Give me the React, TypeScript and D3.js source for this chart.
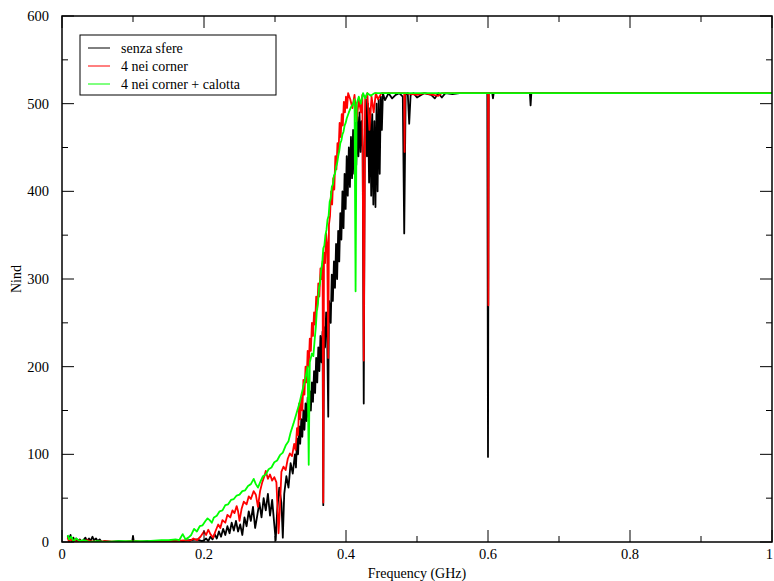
import * as d3 from 'd3';

type Pt = [number, number];

// Nind vs frequency (GHz)
const senzaSfere: Pt[] = [
  [0.008, 7], [0.010, 2], [0.012, 8], [0.014, 1], [0.016, 5], [0.018, 0], [0.020, 4], [0.022, 1],
  [0.025, 3], [0.028, 0], [0.030, 2], [0.033, 5], [0.035, 1], [0.038, 4], [0.040, 1], [0.043, 6],
  [0.045, 2], [0.048, 4], [0.050, 1], [0.053, 3], [0.056, 0], [0.060, 1], [0.070, 0], [0.080, 1],
  [0.090, 0], [0.099, 1], [0.100, 7], [0.101, 1], [0.110, 0], [0.120, 1], [0.130, 0], [0.140, 1],
  [0.150, 0], [0.160, 2], [0.170, 1], [0.180, 2], [0.190, 3], [0.197, 1],
  [0.200, 2], [0.203, 4], [0.206, 1], [0.209, 6], [0.212, 3], [0.215, 9], [0.218, 4], [0.221, 12],
  [0.224, 6], [0.227, 15], [0.230, 8], [0.233, 18], [0.236, 10], [0.239, 22], [0.242, 13], [0.245, 24],
  [0.248, 12], [0.251, 20], [0.254, 8], [0.257, 28], [0.260, 18], [0.263, 35], [0.266, 24], [0.269, 40],
  [0.272, 16], [0.275, 30], [0.278, 45], [0.281, 28], [0.284, 50], [0.287, 36], [0.290, 55], [0.293, 30],
  [0.296, 48], [0.299, 20], [0.301, 2], [0.303, 35], [0.306, 62], [0.309, 45], [0.311, 5], [0.313, 55],
  [0.316, 75], [0.319, 62], [0.322, 90], [0.325, 78], [0.328, 100], [0.3295, 85], [0.331, 118], [0.3325, 100],
  [0.334, 132], [0.3355, 112], [0.337, 140], [0.3385, 120], [0.340, 150], [0.3415, 128], [0.343, 158], [0.3445, 138],
  [0.346, 165], [0.3475, 142], [0.349, 172], [0.3505, 150], [0.352, 182], [0.3535, 160], [0.355, 195], [0.3565, 170],
  [0.358, 210], [0.3595, 182], [0.361, 222], [0.3625, 195], [0.364, 235], [0.3655, 205], [0.367, 240], [0.368, 42],
  [0.369, 245], [0.3705, 222], [0.372, 262], [0.3735, 235], [0.375, 143], [0.376, 275], [0.377, 270], [0.3785, 250],
  [0.380, 305], [0.3815, 275], [0.383, 320], [0.3845, 290], [0.386, 340], [0.3875, 300], [0.389, 355], [0.3905, 320],
  [0.392, 375], [0.3935, 345], [0.395, 400], [0.3965, 358], [0.398, 420], [0.3995, 380], [0.401, 440], [0.4025, 395],
  [0.404, 450], [0.4055, 405], [0.407, 462], [0.4085, 415], [0.410, 470], [0.4115, 420], [0.413, 478], [0.4145, 430],
  [0.416, 485], [0.4175, 440], [0.419, 490], [0.4205, 445], [0.422, 480], [0.4235, 450], [0.425, 158], [0.4265, 470],
  [0.428, 505], [0.4295, 440], [0.431, 500], [0.4325, 410], [0.434, 495], [0.4355, 395], [0.437, 488], [0.4385, 385],
  [0.440, 480], [0.4415, 382], [0.443, 500], [0.4445, 400], [0.446, 505], [0.4475, 420], [0.449, 508], [0.4505, 470],
  [0.452, 512], [0.455, 504], [0.460, 512], [0.465, 506], [0.470, 510],
  [0.475, 512], [0.480, 508], [0.482, 352], [0.484, 510], [0.487, 512], [0.489, 477], [0.491, 510], [0.495, 512],
  [0.500, 507], [0.510, 512], [0.520, 510], [0.525, 506], [0.530, 512], [0.535, 507], [0.540, 512], [0.550, 511],
  [0.560, 512], [0.599, 512], [0.600, 97], [0.601, 512], [0.606, 512], [0.607, 506], [0.608, 512],
  [0.659, 512], [0.660, 498], [0.661, 512], [1.000, 512],
];

const quattroCorner: Pt[] = [
  [0.008, 5], [0.010, 0], [0.012, 4], [0.015, 0], [0.018, 3], [0.020, 0], [0.025, 2], [0.030, 0],
  [0.035, 2], [0.040, 1], [0.050, 0], [0.060, 1], [0.080, 0], [0.100, 1], [0.120, 0], [0.140, 1],
  [0.160, 1], [0.175, 2], [0.180, 1], [0.185, 4], [0.190, 2], [0.195, 6], [0.200, 12], [0.203, 8],
  [0.206, 14], [0.209, 9], [0.213, 5], [0.216, 12], [0.220, 20], [0.223, 16], [0.226, 25], [0.230, 22],
  [0.233, 31], [0.237, 28], [0.240, 36], [0.243, 33], [0.246, 41], [0.248, 35], [0.250, 24], [0.253, 38],
  [0.256, 46], [0.260, 43], [0.263, 52], [0.266, 49], [0.270, 58], [0.273, 54], [0.276, 40], [0.279, 58],
  [0.282, 68], [0.285, 75], [0.287, 81], [0.290, 72], [0.293, 77], [0.296, 70], [0.299, 74], [0.302, 68],
  [0.304, 30], [0.305, 10], [0.307, 40], [0.309, 80], [0.312, 86], [0.315, 82], [0.318, 95], [0.321, 101],
  [0.324, 98], [0.327, 112], [0.329, 105], [0.331, 130], [0.3325, 122], [0.334, 158], [0.3355, 140], [0.337, 165],
  [0.3385, 150], [0.340, 185], [0.3415, 168], [0.343, 200], [0.3445, 182], [0.346, 218], [0.3475, 200], [0.349, 232],
  [0.3505, 218], [0.352, 250], [0.3535, 235], [0.355, 262], [0.3565, 248], [0.358, 280], [0.3595, 265], [0.361, 295],
  [0.3625, 280], [0.364, 312], [0.3655, 300], [0.367, 320], [0.368, 45], [0.369, 330], [0.3705, 318], [0.372, 352],
  [0.3735, 340], [0.375, 210], [0.376, 362], [0.3775, 372], [0.379, 400], [0.3805, 385], [0.382, 415], [0.3835, 402],
  [0.385, 440], [0.3865, 425], [0.388, 455], [0.3895, 445], [0.391, 478], [0.3925, 462], [0.394, 488], [0.3955, 475],
  [0.397, 502], [0.3985, 490], [0.400, 508], [0.4015, 495], [0.403, 512], [0.406, 505], [0.409, 495], [0.412, 510],
  [0.415, 480], [0.418, 505], [0.421, 490], [0.423, 510], [0.425, 207], [0.427, 505], [0.430, 512], [0.433, 470],
  [0.436, 508], [0.439, 490], [0.442, 512], [0.445, 505], [0.450, 512], [0.482, 512], [0.4825, 445], [0.483, 512],
  [0.500, 510], [0.510, 512], [0.530, 509], [0.535, 512], [0.600, 512], [0.6005, 270], [0.601, 512], [1.000, 512],
];

const cornerCalotta: Pt[] = [
  [0.008, 8], [0.010, 3], [0.013, 6], [0.016, 1], [0.020, 4], [0.025, 1], [0.030, 2], [0.040, 0],
  [0.050, 1], [0.060, 0], [0.080, 1], [0.100, 1], [0.120, 1], [0.140, 2], [0.150, 2], [0.160, 3],
  [0.165, 2], [0.170, 9], [0.174, 3], [0.178, 5], [0.182, 8], [0.186, 15], [0.190, 12], [0.194, 18],
  [0.198, 19], [0.202, 24], [0.205, 27], [0.208, 25], [0.211, 22], [0.214, 28], [0.218, 30], [0.222, 35],
  [0.226, 36], [0.230, 42], [0.234, 43], [0.238, 48], [0.242, 49], [0.246, 53], [0.250, 54], [0.254, 58],
  [0.258, 59], [0.262, 64], [0.266, 66], [0.270, 72], [0.273, 66], [0.276, 62], [0.279, 68], [0.283, 75],
  [0.287, 77], [0.291, 83], [0.295, 85], [0.299, 91], [0.303, 93], [0.307, 99], [0.311, 102], [0.315, 110],
  [0.319, 115], [0.322, 125], [0.326, 135], [0.330, 146], [0.334, 157], [0.338, 171], [0.342, 184], [0.346, 200],
  [0.3475, 88], [0.349, 205], [0.352, 215], [0.354, 212], [0.356, 232], [0.3575, 245], [0.359, 265], [0.3605, 272],
  [0.362, 290], [0.3635, 296], [0.365, 310], [0.3665, 318], [0.368, 335], [0.3695, 338], [0.371, 350], [0.3725, 356],
  [0.374, 368], [0.3755, 372], [0.377, 388], [0.3785, 392], [0.380, 405], [0.3815, 408], [0.383, 418], [0.3845, 420],
  [0.386, 428], [0.3875, 432], [0.389, 440], [0.3905, 446], [0.392, 455], [0.3935, 458], [0.395, 465], [0.3965, 468],
  [0.398, 475], [0.3995, 478], [0.401, 483], [0.404, 490], [0.407, 496], [0.410, 500], [0.412, 505], [0.4135, 286],
  [0.415, 500], [0.418, 508], [0.421, 500], [0.424, 512], [0.427, 506], [0.430, 512], [0.435, 509], [0.440, 512],
  [1.000, 512],
];

const seriesNames = ['senza sfere', '4 nei corner', '4 nei corner + calotta'];
const seriesColors = ['#000000', '#ff0000', '#00ff00'];

const width = 774;
const height = 581;
const margin = { top: 16, right: 2, bottom: 39, left: 62 };
const font = 'Liberation Serif, Times New Roman, Times, serif';

export default function App() {
  const innerW = width - margin.left - margin.right;
  const innerH = height - margin.top - margin.bottom;

  const x = d3.scaleLinear().domain([0, 1]).range([0, innerW]);
  const y = d3.scaleLinear().domain([0, 600]).range([innerH, 0]);

  const line = d3
    .line<Pt>()
    .x((d) => x(d[0]))
    .y((d) => y(d[1]));

  const xMajor = x.ticks(5);
  const xMinor = x.ticks(10).filter((t) => !xMajor.some((m) => Math.abs(m - t) < 1e-9));
  const yMajor = y.ticks(6);
  const yMinor = y.ticks(12).filter((t) => !yMajor.includes(t));
  const fmt = d3.format('~g');
  const textStyle = { fontFamily: font };

  const allSeries = [senzaSfere, quattroCorner, cornerCalotta];

  return (
    <svg
      width={width}
      height={height}
      style={{ position: 'absolute', left: 0, top: 0, background: '#fff' }}
    >
      <defs>
        <clipPath id="plot-clip">
          <rect x={0} y={0} width={innerW} height={innerH} />
        </clipPath>
      </defs>
      <rect width={width} height={height} fill="#fff" />
      <g transform={`translate(${margin.left},${margin.top})`}>
        <g clipPath="url(#plot-clip)">
          {allSeries.map((s, i) => (
            <path
              key={seriesNames[i]}
              d={line(s) || ''}
              fill="none"
              stroke={seriesColors[i]}
              strokeWidth={1.8}
              strokeLinejoin="round"
            />
          ))}
        </g>

        {/* ticks on all four sides, pointing inwards */}
        <g stroke="#000" strokeWidth={1}>
          {xMajor.map((t) => (
            <g key={`xM${t}`}>
              <line x1={x(t)} x2={x(t)} y1={innerH} y2={innerH - 12} />
              <line x1={x(t)} x2={x(t)} y1={0} y2={12} />
            </g>
          ))}
          {xMinor.map((t) => (
            <g key={`xm${t}`}>
              <line x1={x(t)} x2={x(t)} y1={innerH} y2={innerH - 6} />
              <line x1={x(t)} x2={x(t)} y1={0} y2={6} />
            </g>
          ))}
          {yMajor.map((t) => (
            <g key={`yM${t}`}>
              <line x1={0} x2={12} y1={y(t)} y2={y(t)} />
              <line x1={innerW} x2={innerW - 12} y1={y(t)} y2={y(t)} />
            </g>
          ))}
          {yMinor.map((t) => (
            <g key={`ym${t}`}>
              <line x1={0} x2={6} y1={y(t)} y2={y(t)} />
              <line x1={innerW} x2={innerW - 6} y1={y(t)} y2={y(t)} />
            </g>
          ))}
        </g>

        <rect x={0} y={0} width={innerW} height={innerH} fill="none" stroke="#000" strokeWidth={1.5} />

        {xMajor.map((t, i) => (
          <text
            key={`xl${t}`}
            x={x(t) + (i === xMajor.length - 1 ? 1 : 0)}
            y={innerH + 17}
            textAnchor={i === xMajor.length - 1 ? 'end' : 'middle'}
            fontSize={14.5}
            style={textStyle}
          >
            {fmt(t)}
          </text>
        ))}
        {yMajor.map((t) => (
          <text key={`yl${t}`} x={-13} y={y(t) + 5} textAnchor="end" fontSize={14.5} style={textStyle}>
            {fmt(t)}
          </text>
        ))}

        <text x={innerW / 2} y={innerH + 36} textAnchor="middle" fontSize={14} style={textStyle}>
          Frequency (GHz)
        </text>
        <text
          transform={`translate(${-41},${innerH / 2}) rotate(-90)`}
          textAnchor="middle"
          fontSize={14}
          style={textStyle}
        >
          Nind
        </text>

        {/* legend */}
        <g transform="translate(18,19)">
          <rect x={0} y={0} width={196} height={60} fill="#fff" stroke="#000" strokeWidth={1} />
          {seriesNames.map((name, i) => (
            <g key={name} transform={`translate(0,${13 + i * 18})`}>
              <line x1={8} x2={30} y1={0} y2={0} stroke={seriesColors[i]} strokeWidth={1} />
              <text x={41} y={5} fontSize={14} style={textStyle}>
                {name}
              </text>
            </g>
          ))}
        </g>
      </g>
    </svg>
  );
}
